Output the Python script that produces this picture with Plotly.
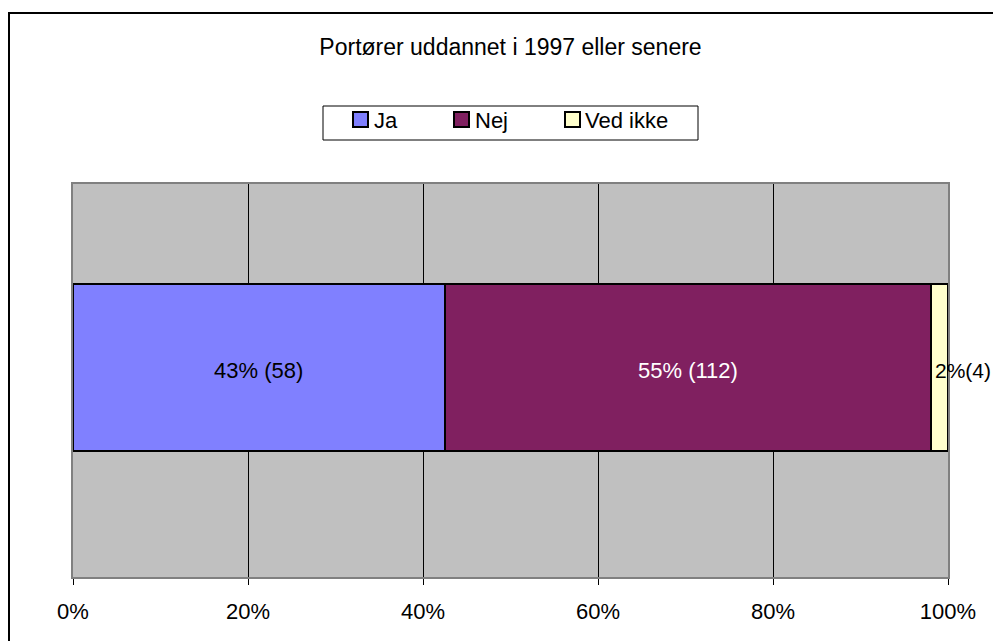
import plotly.graph_objects as go

categories = ["Ja", "Nej", "Ved ikke"]
shares = [42.5, 55.5, 2.0]
labels = ["43% (58)", "55% (112)", "2%(4)"]
colors = ["#8080FF", "#802060", "#FFFFCC"]
label_colors = ["black", "white", "black"]
tick_vals = [0, 20, 40, 60, 80, 100]
tick_text = ["0%", "20%", "40%", "60%", "80%", "100%"]
title = "Portører uddannet i 1997 eller senere"

FONT = "Liberation Sans, Arial, sans-serif"
FS = 22

W, H = 993, 641
L, T, R, B = 73, 184, 45, 64
PW = W - L - R
PH = H - T - B


def px(xp):
    return (xp - L) / PW


def py(yp):
    return (T + PH - yp) / PH


fig = go.Figure()
for c, v, col in zip(categories, shares, colors):
    fig.add_trace(go.Bar(
        x=[v], y=[0], name=c, orientation="h",
        marker=dict(color=col, line=dict(color="black", width=2)),
        width=0.425, hoverinfo="skip", showlegend=False,
    ))

cum = 0
for i, (v, lab, lc) in enumerate(zip(shares, labels, label_colors)):
    mid = cum + v / 2
    cum += v
    small = i == len(shares) - 1
    fig.add_annotation(x=mid, y=0, text=lab, showarrow=False,
                       xanchor="left" if small else "center",
                       xshift=-6 if small else 0, yshift=-3,
                       font=dict(family=FONT, size=FS if not small else 21, color=lc))

# outer chart border
fig.add_shape(type="rect", xref="paper", yref="paper",
              x0=px(9), x1=2, y0=-1, y1=py(13),
              line=dict(color="black", width=2), layer="below")

# legend (box, keys, names)
fig.add_shape(type="rect", xref="paper", yref="paper",
              x0=px(323), x1=px(698), y0=py(140), y1=py(106),
              line=dict(color="black", width=1), fillcolor="white")
key_left = [353, 454, 565]
text_left = [372, 473, 583]
for c, col, kx, tx in zip(categories, colors, key_left, text_left):
    fig.add_shape(type="rect", xref="paper", yref="paper",
                  x0=px(kx), x1=px(kx + 15), y0=py(127), y1=py(112),
                  line=dict(color="black", width=2), fillcolor=col)
    fig.add_annotation(xref="paper", yref="paper", x=px(tx), y=py(120),
                       xanchor="left", yanchor="middle", text=c, showarrow=False,
                       font=dict(family=FONT, size=FS, color="black"))

fig.update_layout(
    width=W, height=H,
    margin=dict(l=L, r=R, t=T, b=B),
    barmode="stack",
    paper_bgcolor="white",
    plot_bgcolor="#C0C0C0",
    font=dict(family=FONT, size=FS, color="black"),
    title=dict(text=title, x=(L + PW / 2) / W, xanchor="center", y=1 - 47 / H, yanchor="middle",
               font=dict(family=FONT, size=23, color="black")),
    xaxis=dict(range=[0, 100], tickvals=tick_vals, ticktext=tick_text,
               showgrid=True, gridcolor="black", gridwidth=1,
               showline=True, linecolor="#808080", linewidth=2, mirror=True,
               ticks="outside", ticklen=6, tickcolor="black", zeroline=False,
               ticklabelstandoff=8, fixedrange=True),
    yaxis=dict(range=[-0.533, 0.467], showticklabels=False, showgrid=False,
               zeroline=False, showline=True, linecolor="#808080", linewidth=2,
               mirror=True, fixedrange=True),
    showlegend=False,
)

fig.write_html("out.html", config={"displayModeBar": False},
               post_script="document.body.style.margin='0';document.body.style.overflow='hidden';")
